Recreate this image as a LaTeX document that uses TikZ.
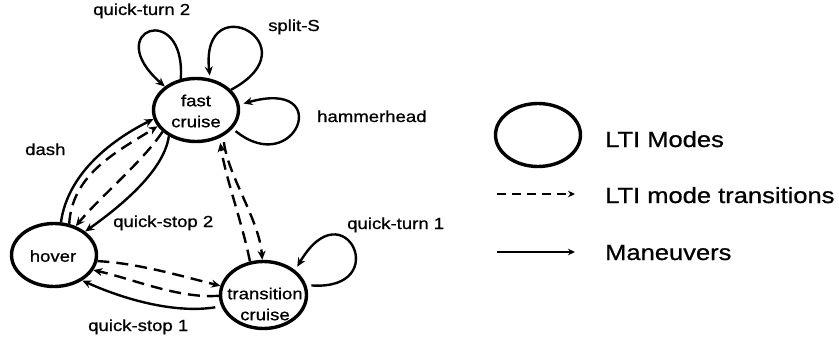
\documentclass[tikz,border=0pt]{standalone}
\usepackage{fontspec}
\setmainfont{Liberation Sans}[FakeStretch=1.16,FakeBold=0.8]
\usetikzlibrary{shapes.geometric,arrows.meta}
\begin{document}
\begin{tikzpicture}[x=1pt,y=-1pt,
  mode/.style={ellipse,draw,line width=3.4pt,inner sep=0pt,minimum width=85pt,minimum height=63pt},
  lbl/.style={font=\fontsize{16}{21}\selectfont,inner sep=0pt},
  leg/.style={font=\fontsize{22}{26}\selectfont,inner sep=0pt,anchor=base west},
  tip/.style={-{Stealth[length=9pt,width=8pt]}},
  trans/.style={tip,line width=2.4pt,dash pattern=on 12pt off 7pt},
  man/.style={tip,line width=2.4pt},
  legtrans/.style={line width=1.8pt,dash pattern=on 9pt off 6pt,-{Stealth[length=7pt,width=6.5pt]}},
  legman/.style={line width=1.8pt,-{Stealth[length=7pt,width=6.5pt]}},
]
\useasboundingbox (0,0) rectangle (839,337);

% LTI modes
\node[mode] (fc) at (196,110) {};
\node[mode] (hv) at (54,255) {};
\node[mode,minimum width=86pt,minimum height=67pt] (tc) at (263.5,295) {};
\node[lbl,align=center] (fct) at (196,111) {fast\\cruise};
\node[lbl] (hvt) at (53,256) {hover};
\node[lbl,align=center] (tct) at (265,304) {transition\\cruise};

% maneuver loops on fast cruise
\draw[man] (fc.116) .. controls +(5,-79) and +(-65,-57) .. (fc.143);
\draw[man,shorten >=3pt] (fc.30) .. controls +(84,-45) and +(-10,-94) .. (fc.66);
\draw[man,shorten <=4pt,shorten >=4pt] (fc.-27) .. controls +(63,51) and +(96,-27) .. (fc.7);

% fast cruise <-> hover
\draw[man] (hv.78) .. controls +(7,-50) and +(-40,20) .. (fc.192);
\draw[trans] (hv.64) .. controls +(3,-50) and +(-40,25) .. (fc.203);
\draw[trans] (fc.213) .. controls +(-20,30) and +(25,-30) .. (hv.53);
\draw[man] (fc.224) .. controls +(-5,35) and +(35,-25) .. (hv.37);

% hover <-> transition cruise
\draw[trans] (hv.352) .. controls +(40,2) and +(-40,-10) .. (tc.168);
\draw[trans] (tc.181) .. controls +(-40,3) and +(40,9) .. (hv.339);
\draw[man,shorten <=6pt] (tc.195) .. controls +(-50,8) and +(35,16) .. (hv.318);

% fast cruise <-> transition cruise
\draw[trans,shorten >=5pt] (tc.112) .. controls +(-8,-40) and +(6,40) .. (fc.310);
\draw[trans,shorten <=6pt] (fc.316) .. controls +(5,40) and +(-3,-40) .. (tc.92);

% maneuver loop on transition cruise
\draw[man,shorten <=5pt,shorten >=4pt] (tc.13) .. controls +(88,6) and +(49,-84) .. (tc.38);

% edge labels
\node[lbl,anchor=base west] (l-qt2) at (93,15) {quick-turn 2};
\node[lbl,anchor=base west] (l-ss) at (268,31) {split-S};
\node[lbl,anchor=base west] (l-hh) at (317,122) {hammerhead};
\node[lbl,anchor=base west] (l-dash) at (25,155) {dash};
\node[lbl,anchor=base west] (l-qs2) at (113,227) {quick-stop 2};
\node[lbl,anchor=base west] (l-qs1) at (88,331) {quick-stop 1};
\node[lbl,anchor=base west] (l-qt1) at (347,229) {quick-turn 1};

% legend
\node[mode] (lg) at (538,135) {};
\coordinate (d0) at (497,194);
\coordinate (d1) at (575,194);
\coordinate (m0) at (497,252);
\coordinate (m1) at (575,252);
\draw[legtrans] (d0) -- (d1);
\draw[legman] (m0) -- (m1);
\node[leg] (t-modes) at (605,147) {LTI Modes};
\node[leg] (t-trans) at (605,203) {LTI mode transitions};
\node[leg] (t-man) at (605,260) {Maneuvers};
\end{tikzpicture}
\end{document}
